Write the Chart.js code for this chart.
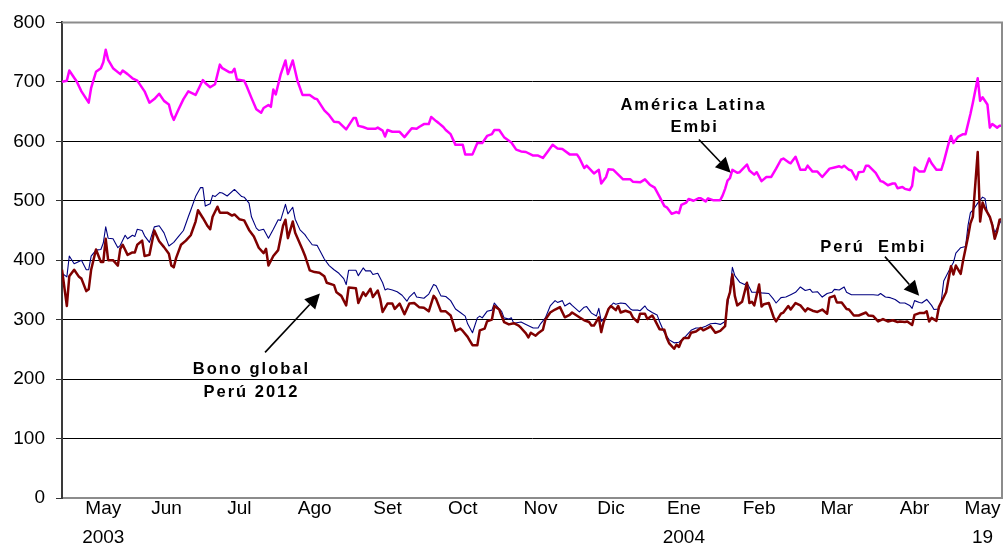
<!DOCTYPE html>
<html lang="es">
<head>
<meta charset="utf-8">
<title>Spreads: América Latina Embi, Perú Embi y Bono global Perú 2012</title>
<script src="https://cdn.jsdelivr.net/npm/chart.js@4.4.1/dist/chart.umd.min.js"></script>
<style>
  html, body { margin: 0; padding: 0; background: #fff; }
  #marco { position: relative; width: 1004px; height: 546px; }
</style>
</head>
<body>
<div id="marco"><canvas id="grafico"></canvas></div>
<script>
// días transcurridos desde el 28/04/2003 (el último punto es el 19/05/2004)
const diaFinal = 387;

// América Latina Embi (pb)
const diasAL = [0,2,3,5,6,8,11,12,14,16,17,18,19,21,24,25,27,29,31,34,36,38,40,42,44,45,46,48,50,52,55,58,59,61,63,65,66,69,70,71,72,75,76,78,80,82,83,85,86,87,88,90,92,93,95,97,99,102,104,105,108,110,112,114,117,120,121,122,124,126,129,130,132,133,134,136,139,141,144,146,147,149,151,152,154,155,157,158,160,162,165,166,169,171,173,175,177,178,180,182,185,187,189,191,194,196,198,200,202,204,206,209,212,213,215,216,219,221,222,224,225,227,229,231,234,235,238,240,242,244,246,248,249,251,253,254,255,257,258,260,262,263,265,266,268,271,272,273,274,275,276,278,279,282,283,285,286,288,290,292,294,296,297,299,300,302,304,306,307,309,311,313,316,318,320,321,322,324,325,327,328,330,331,332,335,337,338,340,342,343,344,346,347,349,350,351,353,355,357,358,360,362,363,365,366,367,369,371,372,374,375,377,378,379,381,382,383,385,386,387];
const embiAL = [700,702,719,707,701,684,665,690,717,723,733,754,737,723,713,719,713,706,702,684,665,671,680,668,662,646,636,654,671,684,678,703,698,691,696,729,723,716,716,722,704,702,693,673,654,648,656,661,658,687,679,712,736,713,736,701,678,678,672,671,652,644,633,632,620,639,639,626,624,621,621,623,618,608,619,616,616,607,622,621,624,629,629,641,634,631,624,619,612,594,594,578,578,597,597,609,612,619,619,607,598,586,583,582,576,576,572,583,594,588,587,578,578,572,555,559,546,552,529,540,553,552,544,536,536,532,531,536,527,522,507,491,489,478,481,479,493,497,503,500,504,504,499,504,501,501,509,520,534,538,552,547,548,561,551,544,548,533,540,540,554,569,571,565,563,574,552,552,559,549,549,540,554,556,558,556,559,552,551,536,548,549,559,559,547,533,532,526,529,529,521,523,520,518,525,556,549,549,571,563,552,552,565,596,609,597,608,612,612,646,665,706,668,674,662,623,629,623,626,626];

// Perú Embi (pb)
const diasPE = [0,2,3,5,7,8,10,11,12,14,16,17,18,19,21,23,24,26,27,29,30,31,33,34,36,38,40,42,44,46,48,50,52,53,55,57,58,59,61,62,63,65,66,68,71,74,75,77,78,80,81,83,85,87,89,90,92,93,95,96,98,100,101,103,105,108,110,112,114,116,117,118,121,122,124,125,127,128,130,132,133,134,136,138,140,142,143,145,146,149,151,153,154,156,158,160,162,164,166,167,169,171,172,173,175,177,178,180,181,182,184,185,186,189,191,194,196,197,199,201,203,204,206,207,209,210,213,215,216,218,220,221,222,224,225,227,228,230,232,234,235,237,238,240,241,243,245,246,248,250,252,254,256,257,259,261,263,265,267,269,271,273,274,275,276,277,279,281,282,284,286,288,291,293,294,296,298,300,302,304,306,308,309,311,313,315,317,318,320,322,323,325,328,331,334,336,337,339,341,343,345,347,349,350,351,353,354,356,358,359,361,362,363,366,367,368,370,372,373,374,375,377,379,380,381,383,384,385,387];
const embiPE = [378,372,407,394,398,400,384,384,407,417,418,429,456,437,436,421,425,442,436,442,440,452,450,441,430,456,458,446,424,430,440,450,473,484,507,522,522,491,495,509,507,514,513,508,519,507,506,496,473,454,450,452,437,452,468,467,494,478,489,469,451,443,437,426,425,402,391,384,378,369,359,383,383,374,387,382,382,376,378,362,350,352,350,347,341,331,338,346,338,336,343,359,357,340,339,332,318,312,306,293,278,303,306,303,314,316,328,318,314,303,301,303,294,296,292,286,286,293,303,323,332,329,332,323,328,324,313,321,322,311,306,319,297,306,319,328,326,328,327,318,316,316,315,323,317,312,308,297,278,266,261,262,269,273,282,286,286,289,293,294,292,297,324,350,388,374,363,359,362,346,346,345,344,334,328,337,338,342,346,355,349,351,346,347,338,344,346,351,350,355,346,342,342,342,342,341,344,338,337,334,328,328,324,319,332,329,328,334,324,317,318,331,365,389,396,412,421,423,458,480,484,496,506,504,479,462,446,454,469];

// Bono global Perú 2012 (pb)
const diasBG = [0,2,3,5,7,8,10,11,12,14,16,17,18,19,21,23,24,25,27,29,30,31,33,34,36,38,40,42,44,45,46,47,49,51,53,55,56,58,60,61,62,64,65,68,70,71,73,75,77,79,81,83,84,85,87,89,91,92,93,95,96,99,100,102,104,106,108,109,112,113,115,117,118,121,122,124,125,127,128,130,131,132,134,136,137,139,141,143,145,147,149,151,153,154,156,158,160,162,164,165,167,168,169,171,172,174,175,177,178,180,181,182,184,186,188,189,191,192,193,195,196,198,199,201,203,205,207,209,210,213,215,217,218,219,221,222,223,225,226,228,229,230,232,234,235,237,238,240,241,243,244,246,248,249,250,252,253,254,255,256,258,259,261,263,264,266,267,269,271,273,274,275,276,277,278,280,282,283,284,285,287,288,289,291,293,294,296,297,299,300,302,304,306,307,309,311,313,315,316,318,319,321,323,324,326,328,331,332,334,336,338,340,342,344,345,347,348,350,351,353,355,356,357,358,360,361,364,366,367,368,370,371,373,374,375,377,378,379,380,382,383,384,385,386,387];
const bonoBG = [384,323,373,384,372,369,348,351,384,418,397,397,436,400,400,391,419,426,409,413,413,426,433,407,409,450,432,422,411,391,388,404,426,433,442,465,484,471,457,452,473,490,480,480,475,477,469,467,451,440,421,412,419,391,407,417,458,468,437,465,446,418,408,383,380,379,373,362,358,346,340,324,354,353,328,346,340,352,338,349,335,313,327,327,318,327,309,327,328,321,320,314,340,335,314,314,307,281,285,281,271,264,257,257,282,285,297,300,323,317,306,296,292,294,290,286,277,270,278,273,277,283,300,312,317,321,304,308,312,304,299,296,290,290,304,279,296,318,323,316,323,312,315,312,304,296,310,310,301,307,300,284,283,269,260,251,258,254,264,269,269,278,280,286,282,286,289,278,281,289,333,346,376,340,324,330,362,328,330,324,359,322,326,328,304,297,310,312,323,317,328,324,314,319,315,313,317,310,337,340,329,329,318,317,307,307,312,307,306,297,301,297,299,296,297,296,297,291,308,311,311,314,297,303,298,321,346,390,376,391,377,400,439,462,473,582,465,497,487,473,459,436,449,468,469];

// eje horizontal: posición (día) y rótulo de cada mes
const diasMes = [17, 43, 73, 104, 134, 165, 197, 226, 256, 287, 319, 351, 379];
const etiquetasMes = [['May', '2003'], 'Jun', 'Jul', 'Ago', 'Set', 'Oct', 'Nov', 'Dic', ['Ene', '2004'], 'Feb', 'Mar', 'Abr', ['May', '19']];

const fuente = 'Arial, "Liberation Sans", sans-serif';

const puntos = (dias, valores) => dias.map((d, i) => ({ x: d, y: valores[i] }));

// rótulos y flechas sobre el gráfico, en unidades de los ejes (día, pb)
const textos = [
    { texto: 'América Latina', dia: 260, valor: 653 },
    { texto: 'Embi', dia: 260.5, valor: 615 },
    { texto: 'Perú  Embi', dia: 334, valor: 414 },
    { texto: 'Bono global', dia: 78, valor: 208 },
    { texto: 'Perú 2012', dia: 78, valor: 170 }
];
const flechas = [
    { desde: [262.2, 603], hasta: [275.3, 547] },
    { desde: [338.8, 406], hasta: [352.9, 340] },
    { desde: [83.6, 245], hasta: [106.2, 344] }
];

function dibujarFlecha(ctx, x0, y0, x1, y1) {
    const ang = Math.atan2(y1 - y0, x1 - x0);
    const largo = 15, ancho = 7.5;
    const bx = x1 - largo * Math.cos(ang), by = y1 - largo * Math.sin(ang);
    ctx.beginPath();
    ctx.moveTo(x0, y0);
    ctx.lineTo(bx, by);
    ctx.stroke();
    ctx.beginPath();
    ctx.moveTo(x1, y1);
    ctx.lineTo(bx + ancho * Math.sin(ang), by - ancho * Math.cos(ang));
    ctx.lineTo(bx - ancho * Math.sin(ang), by + ancho * Math.cos(ang));
    ctx.closePath();
    ctx.fill();
}

const rotulos = {
    id: 'rotulos',
    afterDatasetsDraw(chart) {
        const { ctx, chartArea: area, scales: { x, y } } = chart;
        ctx.save();
        // marco gris del área de trazado (arriba y a la derecha)
        ctx.strokeStyle = '#8c8c8c';
        ctx.lineWidth = 2;
        ctx.beginPath();
        ctx.moveTo(area.left, area.top);
        ctx.lineTo(area.right, area.top);
        ctx.lineTo(area.right, area.bottom);
        ctx.stroke();

        ctx.fillStyle = '#000';
        ctx.strokeStyle = '#000';
        ctx.lineWidth = 1.6;
        ctx.font = 'bold 16.5px ' + fuente;
        ctx.letterSpacing = '2px';
        ctx.textAlign = 'center';
        ctx.textBaseline = 'alphabetic';
        textos.forEach(t => ctx.fillText(t.texto, x.getPixelForValue(t.dia), y.getPixelForValue(t.valor)));
        flechas.forEach(f => dibujarFlecha(ctx,
            x.getPixelForValue(f.desde[0]), y.getPixelForValue(f.desde[1]),
            x.getPixelForValue(f.hasta[0]), y.getPixelForValue(f.hasta[1])));
        ctx.restore();
    }
};

new Chart(document.getElementById('grafico'), {
    type: 'line',
    data: {
        datasets: [
            { label: 'América Latina Embi', data: puntos(diasAL, embiAL), borderColor: '#ff00ff', borderWidth: 2.5 },
            { label: 'Bono global Perú 2012', data: puntos(diasBG, bonoBG), borderColor: '#800000', borderWidth: 2.5 },
            { label: 'Perú Embi', data: puntos(diasPE, embiPE), borderColor: '#000080', borderWidth: 1.1 }
        ]
    },
    options: {
        responsive: true,
        maintainAspectRatio: false,
        devicePixelRatio: 1,
        animation: false,
        parsing: true,
        elements: { point: { radius: 0 }, line: { tension: 0, borderJoinStyle: 'round' } },
        layout: { padding: { top: 19, right: 2, left: 0, bottom: 0 } },
        plugins: { legend: { display: false }, tooltip: { enabled: false } },
        scales: {
            x: {
                type: 'linear',
                min: 0,
                max: diaFinal,
                afterBuildTicks: scale => { scale.ticks = diasMes.map(v => ({ value: v })); },
                afterFit: scale => { scale.height = 48; },
                grid: { display: false, drawTicks: false },
                border: { color: '#8c8c8c', width: 2 },
                ticks: {
                    autoSkip: false,
                    maxRotation: 0,
                    padding: -3,
                    color: '#000',
                    font: { family: fuente, size: 19, lineHeight: 1.5 },
                    callback: (v, i) => etiquetasMes[i]
                }
            },
            y: {
                min: 0,
                max: 800,
                afterFit: scale => { scale.width = 62; },
                grid: {
                    color: c => (c.tick && c.tick.value === 800) ? 'rgba(0,0,0,0)' : '#000',
                    lineWidth: 1,
                    tickLength: 6,
                    tickColor: '#333'
                },
                border: { color: '#3a3a3a', width: 2 },
                ticks: {
                    stepSize: 100,
                    padding: 11,
                    color: '#000',
                    font: { family: fuente, size: 19 }
                }
            }
        }
    },
    plugins: [rotulos]
});
</script>
</body>
</html>
